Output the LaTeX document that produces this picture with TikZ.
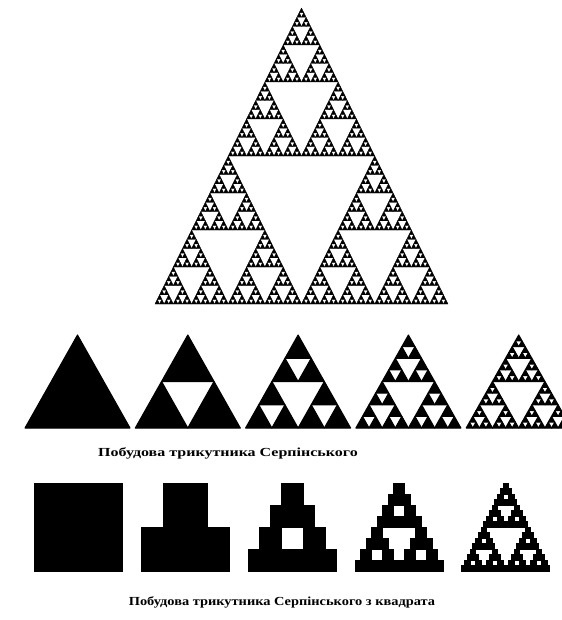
\documentclass[tikz,border=0pt]{standalone}
\usepackage{fontspec}
\setmainfont{Liberation Serif}
\usepackage{xcolor}
\usepackage{tikz}
\usetikzlibrary{positioning}

% Triangle of a given level: level, base-left x, base y, width, height.
\newcommand\sierptri[5]{%
  \ifnum#1=0
    \filldraw[tripart] (#2,#3) -- ++(#4,0) -- ++({-#4/2},-#5) -- cycle;
  \else
    \begingroup
      \pgfmathsetmacro\hw{#4/2}\pgfmathsetmacro\hh{#5/2}%
      \pgfmathsetmacro\xb{#2+#4/2}\pgfmathsetmacro\xc{#2+#4/4}%
      \pgfmathsetmacro\yc{#3-#5/2}\pgfmathtruncatemacro\lv{#1-1}%
      \edef\next{%
        \noexpand\sierptri{\lv}{#2}{#3}{\hw}{\hh}%
        \noexpand\sierptri{\lv}{\xb}{#3}{\hw}{\hh}%
        \noexpand\sierptri{\lv}{\xc}{\yc}{\hw}{\hh}}%
      \next
    \endgroup
  \fi}

% Same construction started from a square: level, bottom-left x, y, side.
\newcommand\sierpsq[4]{%
  \ifnum#1=0
    \filldraw[sqpart] (#2,#3) rectangle ++(#4,-#4);
  \else
    \begingroup
      \pgfmathsetmacro\hs{#4/2}%
      \pgfmathsetmacro\xb{#2+#4/2}\pgfmathsetmacro\xc{#2+#4/4}%
      \pgfmathsetmacro\yc{#3-#4/2}\pgfmathtruncatemacro\lv{#1-1}%
      \edef\next{%
        \noexpand\sierpsq{\lv}{#2}{#3}{\hs}%
        \noexpand\sierpsq{\lv}{\xb}{#3}{\hs}%
        \noexpand\sierpsq{\lv}{\xc}{\yc}{\hs}}%
      \next
    \endgroup
  \fi}

\begin{document}
\begin{tikzpicture}[x=0.03cm,y=-0.03cm,
    tripart/.style={fill=black,draw=black,line width=0.3pt,line join=round},
    sqpart/.style={fill=black,draw=black,line width=0.2pt},
    capt/.style={font=\bfseries\fontsize{10.5}{12}\selectfont,inner sep=0pt}]
  \useasboundingbox[fill=white] (0,0) rectangle (561,620);

  % Large triangle at the top.
  \sierptri{6}{155}{304}{293}{296}

  % First construction, levels 0 to 4.
  \begin{scope}[tripart/.append style={line width=0.9pt}]
    \foreach \k in {0,...,4}{
      \pgfmathsetmacro\bx{25+110.3*\k}
      \sierptri{\k}{\bx}{428}{105}{93}
    }
  \end{scope}
  \node[capt,xscale=1.3] (captri) at (228,453) {Побудова трикутника Серпінського};

  % Second construction, from a square.
  \foreach \k in {0,...,4}{
    \pgfmathsetmacro\bx{34+106.9*\k}
    \sierpsq{\k}{\bx}{571}{88}
  }
  \node[capt,xscale=1.17] (capsq) at (282,602) {Побудова трикутника Серпінського з квадрата};
\end{tikzpicture}
\end{document}
